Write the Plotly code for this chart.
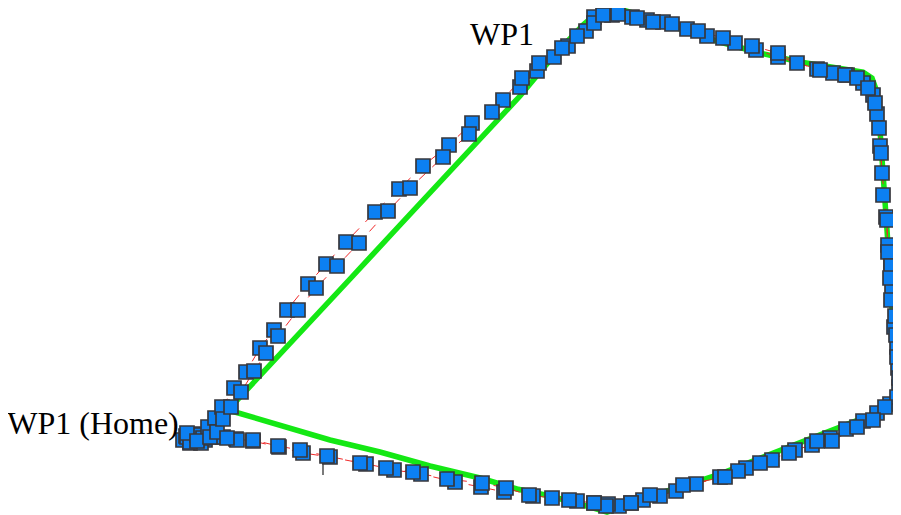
import plotly.graph_objects as go

# Planned route (green)
plan_x = [228, 260, 300, 350, 400, 450, 500, 520, 540, 560, 583, 597, 610, 623, 650, 677, 720, 760, 800, 840,
          863, 872, 877, 880, 883, 887, 891, 894, 896, 894, 886, 876, 840, 800, 760, 720, 683, 650, 625, 607,
          583, 550, 517, 480, 430, 380, 330, 280, 228]
plan_y = [410, 376, 333, 279, 225, 172, 118, 96, 72, 49, 25, 13, 9, 10, 18, 28, 42, 53, 62, 68,
          72, 78, 92, 130, 180, 230, 290, 340, 385, 398, 408, 413, 427, 443, 458, 474, 486, 496, 506, 512,
          505, 496, 489, 478, 466, 452, 440, 425, 410]

# Flown track, lap A
lap_a_x = [190, 197, 203, 208, 215, 222, 234, 246, 260, 274, 287, 308, 326, 346, 375, 399, 423, 449, 472, 503,
           520, 537, 554, 568, 586, 594, 612, 632, 647, 663, 687, 707, 735, 756, 778, 817, 833, 847, 863, 873,
           877, 880, 882, 886, 888, 891, 892, 894, 897, 898, 899, 890, 877, 863, 846, 830, 812, 795, 772, 746,
           720, 696, 676, 660, 643, 631, 619, 608, 594, 577, 552, 533, 504, 481, 455, 421, 394, 366, 330, 303,
           279, 253, 236, 223]
lap_a_y = [442, 435, 438, 427, 418, 407, 388, 372, 348, 330, 310, 284, 264, 242, 212, 189, 166, 145, 123, 100,
           87, 71, 57, 46, 31, 17, 15, 17, 20, 22, 29, 36, 43, 50, 57, 69, 73, 75, 83, 95,
           114, 146, 173, 217, 245, 266, 289, 327, 347, 368, 387, 404, 413, 421, 429, 438, 445, 450, 460, 468,
           477, 484, 491, 496, 500, 503, 506, 504, 503, 501, 498, 496, 492, 487, 482, 474, 470, 464, 457, 453,
           447, 441, 439, 437]

# Flown track, lap B
lap_b_x = [187, 197, 210, 217, 223, 231, 241, 254, 266, 278, 298, 316, 337, 359, 388, 410,
           443, 469, 492, 522, 539, 562, 577, 594, 603, 618, 637, 653, 672, 698, 723, 752, 778, 797, 820, 845,
           857, 868, 875, 879, 881, 883, 887, 888, 891, 890, 891, 895, 896, 897, 899, 897, 885, 873, 857, 832,
           817, 789, 760, 738, 725, 683, 650, 631, 606, 594, 569, 529, 506, 482, 447, 413, 386, 360, 327, 300,
           278, 253, 237, 227]
lap_b_y = [433, 441, 437, 432, 419, 407, 392, 371, 353, 336, 310, 288, 266, 243, 211, 188,
           157, 134, 112, 78, 63, 48, 36, 23, 15, 14, 18, 22, 24, 31, 38, 46, 53, 63, 70, 75,
           78, 88, 103, 128, 153, 195, 220, 252, 266, 278, 300, 316, 335, 357, 378, 397, 407, 420, 427, 441,
           441, 453, 463, 471, 477, 485, 495, 503, 506, 503, 500, 495, 488, 483, 479, 472, 468, 463, 456, 450,
           446, 440, 440, 438]

# Extra points in the home cluster
home_x = [183, 186, 190, 194, 199, 205, 212, 187, 193, 201]
home_y = [440, 436, 443, 438, 441, 440, 437, 437, 434, 443]

# Waypoint labels
wp_names = ["WP1", "WP1 (Home)"]
wp_x = [502, 93]
wp_y = [37, 426]

# Small marker stub
stub_x = [323, 323]
stub_y = [458, 475]

fig = go.Figure()
fig.add_trace(go.Scatter(x=plan_x, y=plan_y, mode="lines", cliponaxis=False,
                         line=dict(color="rgb(20,232,20)", width=5.5), hoverinfo="skip"))
for xs, ys in [(lap_a_x, lap_a_y), (lap_b_x, lap_b_y)]:
    fig.add_trace(go.Scatter(x=xs, y=ys, mode="lines", cliponaxis=False,
                             line=dict(color="rgb(240,40,40)", width=1, dash="dash"), hoverinfo="skip"))
fig.add_trace(go.Scatter(x=stub_x, y=stub_y, mode="lines", line=dict(color="#222", width=1.2)))
for xs, ys in [(home_x, home_y), (lap_a_x, lap_a_y), (lap_b_x, lap_b_y)]:
    fig.add_trace(go.Scatter(x=xs, y=ys, mode="markers", cliponaxis=False,
                             marker=dict(symbol="square", size=14, color="rgb(12,128,242)",
                                         line=dict(color="rgb(55,55,60)", width=1.7))))
fig.add_trace(go.Scatter(x=wp_x, y=wp_y, mode="text", text=wp_names, cliponaxis=False,
                         textfont=dict(family="Liberation Serif", size=32, color="black"),
                         textposition="middle center"))

# The page body adds an 8 px offset, so the axis ranges start at 8
fig.update_layout(width=901, height=515, margin=dict(l=0, r=0, t=0, b=0),
                  paper_bgcolor="white", plot_bgcolor="white", showlegend=False,
                  xaxis=dict(range=[8, 909], visible=False, fixedrange=True),
                  yaxis=dict(range=[523, 8], visible=False, fixedrange=True))
fig.write_html("out.html")
